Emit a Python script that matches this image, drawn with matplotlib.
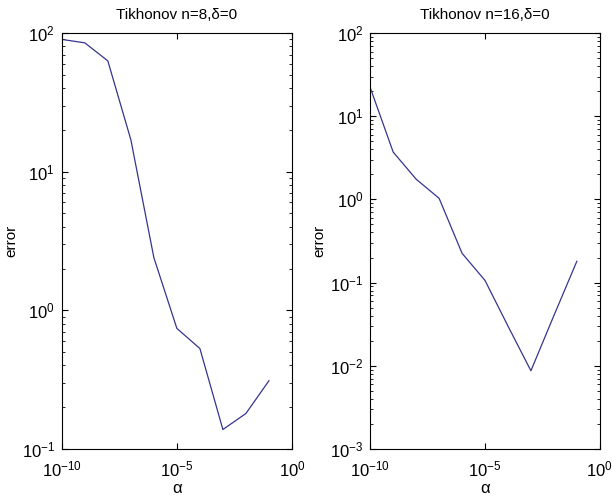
import matplotlib
matplotlib.use('Agg')
import matplotlib.pyplot as plt
from matplotlib.ticker import LogLocator, NullLocator, FixedLocator, LogFormatterMathtext

plt.rcParams['font.family'] = ['Liberation Sans', 'DejaVu Sans']
plt.rcParams['mathtext.default'] = 'regular'

# regularisation parameter alpha
alpha = [1e-10, 1e-9, 1e-8, 1e-7, 1e-6, 1e-5, 1e-4, 1e-3, 1e-2, 1e-1]

# error for n=8 and n=16
err_n8 = [90, 85, 63, 17, 2.4, 0.74, 0.53, 0.138, 0.18, 0.31]
err_n16 = [22, 3.7, 1.75, 1.03, 0.225, 0.106, 0.03, 0.0087, 0.04, 0.18]

titles = ['Tikhonov n=8,δ=0', 'Tikhonov n=16,δ=0']
ylims = [(1e-1, 1e2), (1e-3, 1e2)]
line_color = '#35358f'

fig = plt.figure(figsize=(6.12, 5.01), dpi=100)
ax1 = fig.add_axes([0.101, 0.104, 0.376, 0.830])
ax2 = fig.add_axes([0.605, 0.104, 0.375, 0.830])

for ax, err, title, ylim in zip([ax1, ax2], [err_n8, err_n16], titles, ylims):
    ax.loglog(alpha, err, color=line_color, linewidth=0.9)
    ax.set_xlim(1e-10, 1e0)
    ax.set_ylim(*ylim)
    ax.xaxis.set_major_locator(FixedLocator([1e-10, 1e-5, 1e0]))
    ax.xaxis.set_major_formatter(LogFormatterMathtext())
    ax.xaxis.set_minor_locator(NullLocator())
    ax.yaxis.set_major_locator(LogLocator(base=10, numticks=10))
    ax.yaxis.set_minor_locator(LogLocator(base=10, subs=range(2, 10), numticks=10))
    ax.tick_params(which='both', direction='in', top=True, right=True,
                   colors='black')
    ax.tick_params(which='major', length=4, labelsize=12)
    ax.tick_params(which='minor', length=2)
    ax.tick_params(axis='y', pad=5)
    ax.tick_params(axis='x', pad=7.5)
    for s in ax.spines.values():
        s.set_linewidth(0.8)
    ax.set_title(title, fontsize=11, pad=10)
    ax.set_xlabel('α', fontsize=12, labelpad=1)
    ax.set_ylabel('error', fontsize=11)
    ax.yaxis.set_label_coords(-0.19, 0.5)

fig.savefig('out.png', dpi=100)
